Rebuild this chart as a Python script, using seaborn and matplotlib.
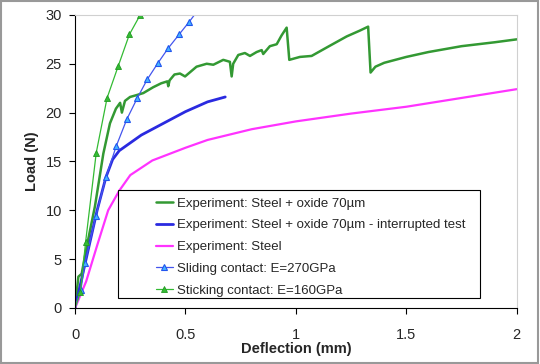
import numpy as np
import pandas as pd
import seaborn as sns
import matplotlib.pyplot as plt
from matplotlib.patches import Rectangle

# Experiment: Steel + oxide 70um
oxide_x = [0, 0.015, 0.03, 0.053, 0.09, 0.128, 0.158, 0.185, 0.204, 0.212, 0.219, 0.226, 0.249, 0.28, 0.309,
           0.354, 0.39, 0.418, 0.422, 0.428, 0.45, 0.475, 0.498, 0.55, 0.596, 0.626, 0.671, 0.701,
           0.709, 0.716, 0.739, 0.769, 0.792, 0.822, 0.845, 0.852, 0.882, 0.913, 0.935, 0.958,
           0.97, 1.018, 1.071, 1.15, 1.23, 1.29, 1.327, 1.338, 1.36, 1.4, 1.5, 1.6, 1.75, 1.9, 2.0]
oxide_y = [0, 3.2, 3.5, 6.3, 10.4, 15.8, 18.9, 20.4, 21.0, 20.0, 20.6, 21.2, 21.6, 21.8, 22.0,
           22.6, 23.0, 23.2, 22.7, 23.3, 23.9, 24.0, 23.7, 24.7, 25.0, 24.9, 25.4, 25.2,
           23.7, 25.0, 25.9, 26.1, 25.8, 26.2, 26.4, 26.0, 26.8, 27.0, 27.9, 28.7,
           25.4, 25.7, 25.8, 26.8, 27.8, 28.4, 28.8, 24.1, 24.7, 25.1, 25.7, 26.2, 26.8, 27.2, 27.5]

# Experiment: Steel + oxide 70um - interrupted test
interr_x = [0, 0.05, 0.1, 0.14, 0.17, 0.2, 0.25, 0.3, 0.4, 0.5, 0.6, 0.68]
interr_y = [0, 5.0, 10.0, 13.4, 15.2, 16.1, 16.9, 17.7, 18.9, 20.1, 21.1, 21.6]

# Experiment: Steel
steel_x = [0, 0.05, 0.1, 0.15, 0.2, 0.25, 0.35, 0.5, 0.6, 0.8, 1.0, 1.25, 1.5, 1.75, 2.0]
steel_y = [0, 2.7, 6.4, 10.0, 12.0, 13.6, 15.1, 16.4, 17.2, 18.3, 19.1, 19.9, 20.6, 21.5, 22.4]

# Sliding contact: E=270GPa
slide_x = [0, 0.026, 0.045, 0.094, 0.14, 0.187, 0.234, 0.282, 0.327, 0.376, 0.422, 0.471, 0.517, 0.564]
slide_y = [0, 1.8, 4.6, 9.4, 13.4, 16.6, 19.3, 21.5, 23.4, 25.1, 26.6, 28.0, 29.3, 30.7]

# Sticking contact: E=160GPa
stick_x = [0, 0.024, 0.048, 0.096, 0.145, 0.196, 0.246, 0.295]
stick_y = [0, 1.6, 6.8, 15.9, 21.5, 24.8, 28.0, 30.0]

sns.set_theme(style='white')
plt.rcParams['font.family'] = ['Liberation Sans', 'DejaVu Sans']

fig = plt.figure(figsize=(5.4, 3.64), dpi=100)
ax = fig.add_axes([0.139, 0.154, 0.818, 0.805])

sns.lineplot(x=oxide_x, y=oxide_y, sort=False, estimator=None, color='#339933', lw=1.8,
             label='Experiment: Steel + oxide 70µm', ax=ax)
sns.lineplot(x=interr_x, y=interr_y, sort=False, estimator=None, color='#2a2ae0', lw=2,
             label='Experiment: Steel + oxide 70µm - interrupted test', ax=ax)
sns.lineplot(x=steel_x, y=steel_y, sort=False, estimator=None, color='#ff33ff', lw=1.6,
             label='Experiment: Steel', ax=ax)
sns.lineplot(x=slide_x, y=slide_y, sort=False, estimator=None, color='#4455ee', lw=0.9,
             marker='^', markersize=5, markerfacecolor='#44b4ff', markeredgecolor='#2255ee',
             markeredgewidth=0.8, markevery=list(range(1, len(slide_x))),
             label='Sliding contact: E=270GPa', ax=ax)
sns.lineplot(x=stick_x, y=stick_y, sort=False, estimator=None, color='#33bb33', lw=0.9,
             marker='^', markersize=5, markerfacecolor='#33bb33', markeredgecolor='#229922',
             markeredgewidth=0.6, markevery=list(range(1, len(stick_x))),
             label='Sticking contact: E=160GPa', ax=ax)

ax.set_xlim(0, 2)
ax.set_ylim(0, 30)
ax.set_xticks([0, 0.5, 1, 1.5, 2])
ax.set_xticklabels(['0', '0.5', '1', '1.5', '2'])
ax.set_yticks(range(0, 31, 5))
ax.tick_params(axis='both', direction='out', length=4.5, width=0.8, color='black',
               labelsize=10.5, left=True, bottom=True)
ax.tick_params(axis='x', pad=10)
ax.tick_params(axis='y', pad=5)
ax.set_xlabel('Deflection (mm)', fontsize=10.5, fontweight='bold', labelpad=0)
ax.set_ylabel('Load (N)', fontsize=10.5, fontweight='bold', labelpad=5)
for s in ['left', 'bottom']:
    ax.spines[s].set_color('black')
    ax.spines[s].set_linewidth(0.8)
for s in ['top', 'right']:
    ax.spines[s].set_color('#d0d0d0')
    ax.spines[s].set_linewidth(0.8)

# legend text without frame, box drawn separately (wide left margin like the original)
ax.add_patch(Rectangle((0.0973, 0.033), 0.819, 0.37, transform=ax.transAxes,
                       facecolor='white', edgecolor='black', lw=0.8, zorder=5))
leg = ax.legend(loc='upper left', bbox_to_anchor=(0.1826, 0.377), fontsize=9.5,
                frameon=False, handlelength=1.3, labelspacing=0.72,
                borderpad=0, borderaxespad=0, handletextpad=0.28)
leg.set_zorder(6)

fig.patches.append(Rectangle((0.002, 0.002), 0.994, 0.994, transform=fig.transFigure,
                             fill=False, edgecolor='#999999', lw=1.5))

fig.savefig('out.png', dpi=100)
